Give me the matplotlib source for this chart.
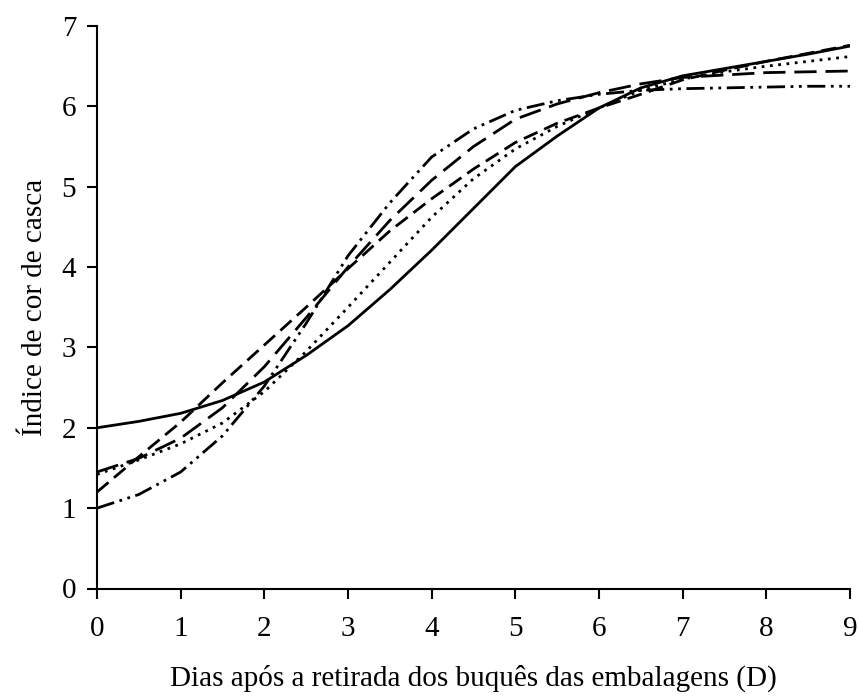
import matplotlib
matplotlib.use("Agg")
import matplotlib.pyplot as plt

days = [0, 0.5, 1, 1.5, 2, 2.5, 3, 3.5, 4, 4.5, 5, 5.5, 6, 6.5, 7, 7.5, 8, 8.5, 9]

s_solid = [2.00, 2.08, 2.18, 2.34, 2.57, 2.90, 3.27, 3.72, 4.21, 4.73, 5.25, 5.63,
           5.98, 6.23, 6.38, 6.47, 6.56, 6.65, 6.75]
s_dotted = [1.42, 1.60, 1.80, 2.06, 2.45, 2.95, 3.50, 4.06, 4.62, 5.10, 5.47, 5.75,
            5.98, 6.20, 6.34, 6.43, 6.50, 6.56, 6.62]
s_longdash = [1.45, 1.62, 1.87, 2.25, 2.76, 3.37, 4.00, 4.58, 5.08, 5.50, 5.84, 6.03,
              6.17, 6.28, 6.36, 6.39, 6.42, 6.43, 6.44]
s_meddash = [1.20, 1.64, 2.07, 2.56, 3.03, 3.50, 3.98, 4.45, 4.85, 5.22, 5.55, 5.79,
             5.98, 6.15, 6.33, 6.45, 6.56, 6.66, 6.76]
s_dashdotdot = [1.00, 1.17, 1.45, 1.90, 2.52, 3.30, 4.14, 4.80, 5.37, 5.72, 5.95, 6.07,
                6.15, 6.20, 6.22, 6.23, 6.24, 6.25, 6.25]

x_ticks = [0, 1, 2, 3, 4, 5, 6, 7, 8, 9]
y_ticks = [0, 1, 2, 3, 4, 5, 6, 7]
x_label = "Dias após a retirada dos buquês das embalagens (D)"
y_label = "Índice de cor de casca"

plt.rcParams['font.family'] = ['Liberation Serif', 'DejaVu Serif']

fig = plt.figure(figsize=(8.58, 6.96), dpi=100)
ax = fig.add_axes([97/858, 1-588.5/696, (850-97)/858, (588.5-26)/696])

lw = 2.0
ax.plot(days, s_solid, color='black', lw=lw, linestyle='-')
ax.plot(days, s_dotted, color='black', lw=lw, linestyle=(0, (1, 2)))
ax.plot(days, s_longdash, color='black', lw=lw, linestyle=(0, (8, 3.2)))
ax.plot(days, s_meddash, color='black', lw=lw, linestyle=(0, (5.4, 2.6)))
ax.plot(days, s_dashdotdot, color='black', lw=lw,
        linestyle=(0, (6.5, 2, 1, 2, 1, 2)))

ax.set_xlim(0, 9)
ax.set_ylim(0, 7)
ax.set_xticks(x_ticks)
ax.set_yticks(y_ticks)
ax.spines['top'].set_visible(False)
ax.spines['right'].set_visible(False)
ax.spines['left'].set_linewidth(1.5)
ax.spines['bottom'].set_linewidth(1.5)
ax.tick_params(direction='out', length=7, width=1.5, labelsize=21)
ax.tick_params(axis='x', pad=13)
ax.tick_params(axis='y', pad=8)
ax.set_xlabel(x_label, fontsize=21, labelpad=16)
ax.set_ylabel(y_label, fontsize=21, labelpad=10)

fig.savefig("out.png", dpi=100)
